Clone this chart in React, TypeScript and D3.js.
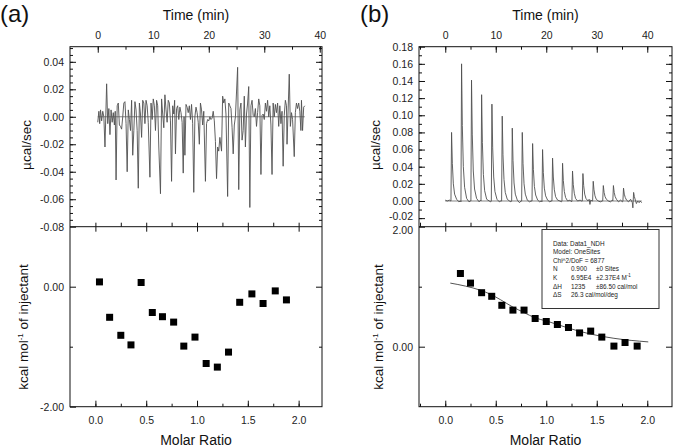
import React, { useEffect, useRef } from 'react';
import * as d3 from 'd3';

type Pt = [number, number];

// (a) raw ITC trace: [time (min), µcal/sec]
const traceA: Pt[] = [
  [0.0, -0.004], [0.2, 0.004], [0.35, -0.005], [0.5, 0.005], [0.7, -0.003], [0.9, 0.004], [1.1, 0.0],
  [1.3, -0.022], [1.6, 0.024], [1.8, -0.005], [2.0, 0.006], [2.2, -0.013], [2.4, 0.005], [2.6, -0.004],
  [2.8, 0.003], [3.0, -0.006], [3.15, 0.004], [3.3, -0.046], [3.5, 0.008], [3.7, 0.01], [3.9, -0.006],
  [4.1, -0.007], [4.3, -0.009], [4.5, 0.0], [4.7, 0.01], [4.9, 0.011], [5.1, -0.005], [5.3, -0.04],
  [5.5, 0.005], [5.7, -0.002], [5.9, -0.01], [6.1, 0.012], [6.3, -0.028], [6.5, -0.01], [6.7, 0.011],
  [6.9, 0.005], [7.1, -0.01], [7.3, -0.052], [7.5, 0.01], [7.7, 0.002], [7.9, -0.015], [8.1, 0.012],
  [8.3, 0.01], [8.5, -0.005], [8.7, 0.012], [8.9, 0.008], [9.1, -0.004], [9.4, -0.044], [9.6, 0.01],
  [9.8, -0.002], [10.0, 0.013], [10.2, 0.008], [10.4, -0.01], [10.6, 0.012], [10.8, 0.008], [11.0, -0.022],
  [11.3, -0.056], [11.5, 0.013], [11.7, 0.002], [11.9, -0.008], [12.1, 0.016], [12.3, 0.005], [12.5, -0.004],
  [12.7, 0.012], [12.9, 0.01], [13.1, -0.003], [13.3, -0.047], [13.5, 0.008], [13.7, 0.002], [13.85, 0.012],
  [14.0, -0.027], [14.2, 0.006], [14.4, 0.008], [14.6, -0.002], [14.8, 0.007], [15.0, 0.003], [15.2, -0.004],
  [15.4, -0.041], [15.55, 0.0], [15.7, -0.028], [15.9, 0.009], [16.1, 0.007], [16.3, 0.003], [16.5, 0.008],
  [16.7, -0.002], [16.9, 0.009], [17.1, -0.005], [17.3, -0.055], [17.5, 0.0], [17.7, 0.007], [17.9, 0.003],
  [18.1, -0.004], [18.3, -0.02], [18.5, 0.01], [18.7, 0.005], [18.9, -0.006], [19.1, 0.004], [19.4, -0.047],
  [19.6, -0.005], [19.8, -0.002], [20.0, -0.003], [20.2, 0.0], [20.4, -0.002], [20.6, -0.001], [20.8, 0.004],
  [21.0, -0.003], [21.2, -0.018], [21.4, -0.045], [21.6, -0.022], [21.8, -0.025], [22.0, -0.015], [22.3, -0.025],
  [22.5, 0.015], [22.7, 0.01], [22.9, 0.013], [23.1, 0.002], [23.4, -0.058], [23.6, 0.01], [23.8, 0.008],
  [24.0, 0.006], [24.2, -0.008], [24.4, -0.027], [24.6, -0.006], [24.8, 0.0], [25.2, 0.036], [25.4, -0.053],
  [25.6, 0.005], [25.8, 0.01], [26.0, -0.017], [26.2, -0.01], [26.4, 0.015], [26.6, -0.022], [26.8, 0.002],
  [27.0, 0.01], [27.2, 0.022], [27.4, -0.066], [27.6, 0.008], [27.8, 0.012], [28.0, 0.001], [28.2, 0.0],
  [28.4, 0.006], [28.6, -0.007], [28.8, 0.003], [29.0, 0.013], [29.2, 0.008], [29.4, -0.042], [29.6, 0.001],
  [29.8, 0.002], [30.0, -0.002], [30.2, 0.01], [30.4, 0.004], [30.6, 0.012], [30.8, 0.0], [31.0, 0.008],
  [31.2, -0.006], [31.4, -0.042], [31.6, 0.01], [31.8, 0.0], [32.0, 0.009], [32.2, 0.003], [32.4, 0.01],
  [32.6, -0.007], [32.8, 0.008], [33.0, -0.005], [33.2, 0.004], [33.4, -0.036], [33.6, 0.001], [33.8, 0.012],
  [34.0, 0.008], [34.1, -0.02], [34.5, 0.031], [34.7, -0.007], [34.9, 0.003], [35.1, -0.002], [35.4, -0.029],
  [35.6, 0.003], [35.8, 0.01], [36.0, 0.006], [36.2, 0.01], [36.4, 0.004], [36.6, -0.01], [36.7, 0.012],
  [36.9, -0.01], [37.1, 0.007], [37.3, 0.008],
];

// (a) integrated heats
const ratioA = [0.04, 0.14, 0.25, 0.35, 0.45, 0.56, 0.66, 0.77, 0.87, 0.98, 1.09, 1.2, 1.31, 1.42, 1.54, 1.65, 1.77, 1.88];
const heatA = [0.08, -0.51, -0.81, -0.97, 0.07, -0.43, -0.5, -0.59, -0.99, -0.84, -1.28, -1.34, -1.09, -0.26, -0.12, -0.28, -0.07, -0.22];

// (b) raw ITC trace
const traceB: Pt[] = [
  [0.0, 0.001], [0.4, 0.0], [0.8, 0.001],
  [1.13, 0.0], [1.25, 0.08], [1.4, 0.044], [1.6, 0.02], [1.85, 0.008], [2.25, 0.002], [2.7, -0.001], [3.0, 0.0],
  [3.11, -0.001], [3.23, 0.16], [3.38, 0.088], [3.58, 0.04], [3.83, 0.016], [4.23, 0.003], [4.7, -0.001], [5.0, 0.0],
  [5.08, 0.0], [5.2, 0.141], [5.35, 0.078], [5.55, 0.035], [5.8, 0.014], [6.2, 0.003], [6.7, -0.001], [7.0, 0.001],
  [7.08, 0.0], [7.2, 0.124], [7.35, 0.068], [7.55, 0.031], [7.8, 0.012], [8.2, 0.002], [8.7, 0.0], [9.0, -0.001],
  [9.12, 0.0], [9.24, 0.113], [9.39, 0.062], [9.59, 0.028], [9.84, 0.011], [10.24, 0.002], [10.7, -0.001], [11.0, 0.0],
  [11.16, 0.0], [11.28, 0.099], [11.43, 0.054], [11.63, 0.025], [11.88, 0.01], [12.28, 0.002], [12.7, 0.0], [13.0, -0.001],
  [13.15, 0.0], [13.27, 0.085], [13.42, 0.047], [13.62, 0.021], [13.87, 0.008], [14.27, 0.001], [14.7, -0.002], [15.0, 0.0],
  [15.13, 0.0], [15.25, 0.08], [15.4, 0.044], [15.6, 0.02], [15.85, 0.008], [16.25, 0.001], [16.7, -0.001], [17.0, 0.0],
  [17.18, 0.0], [17.3, 0.067], [17.45, 0.037], [17.65, 0.017], [17.9, 0.007], [18.3, 0.001], [18.7, -0.001], [19.0, 0.0],
  [19.15, -0.001], [19.27, 0.06], [19.42, 0.033], [19.62, 0.015], [19.87, 0.006], [20.27, 0.001], [20.7, -0.001], [21.0, 0.0],
  [21.13, 0.0], [21.25, 0.05], [21.4, 0.028], [21.6, 0.013], [21.85, 0.005], [22.25, 0.001], [22.7, 0.0], [23.0, -0.001],
  [23.11, 0.0], [23.23, 0.044], [23.38, 0.024], [23.58, 0.011], [23.83, 0.004], [24.23, 0.0], [24.7, 0.001], [25.0, -0.001],
  [25.08, 0.0], [25.2, 0.035], [25.35, 0.019], [25.55, 0.009], [25.8, 0.003], [26.2, 0.0], [26.7, 0.001], [27.0, 0.0],
  [27.14, 0.0], [27.26, 0.032], [27.41, 0.018], [27.61, 0.008], [27.86, 0.003], [28.26, 0.0], [28.5, 0.002], [28.65, -0.004], [28.8, 0.001], [29.1, 0.0],
  [29.18, 0.0], [29.3, 0.023], [29.45, 0.013], [29.65, 0.006], [29.9, 0.002], [30.3, 0.0], [30.7, -0.001], [31.1, 0.0],
  [31.18, 0.0], [31.3, 0.018], [31.45, 0.01], [31.65, 0.005], [31.9, 0.002], [32.3, 0.0], [32.7, -0.001], [33.1, 0.001],
  [33.18, 0.0], [33.3, 0.018], [33.45, 0.01], [33.65, 0.005], [33.9, 0.002], [34.3, -0.001], [34.7, 0.001], [35.1, -0.001],
  [35.18, 0.0], [35.3, 0.015], [35.45, 0.008], [35.65, 0.004], [35.9, 0.001], [36.3, -0.001], [36.7, 0.002], [37.05, -0.002],
  [37.15, -0.008], [37.3, 0.01], [37.45, 0.005], [37.65, 0.001], [37.85, -0.003], [38.1, 0.0], [38.4, -0.002], [38.6, 0.0], [38.9, -0.002],
];

// (b) integrated heats and fitted curve
const ratioB = [0.15, 0.25, 0.36, 0.46, 0.56, 0.67, 0.78, 0.89, 1.0, 1.11, 1.22, 1.33, 1.44, 1.55, 1.67, 1.78, 1.9];
const heatB = [1.22, 1.06, 0.9, 0.84, 0.69, 0.61, 0.61, 0.47, 0.42, 0.37, 0.32, 0.23, 0.26, 0.16, 0.01, 0.07, 0.01];
const fitRatioB = [0.05, 0.2, 0.35, 0.44, 0.55, 0.67, 0.78, 0.89, 1.0, 1.22, 1.44, 1.67, 2.01];
const fitHeatB = [1.06, 1.01, 0.94, 0.88, 0.78, 0.66, 0.57, 0.48, 0.43, 0.31, 0.21, 0.14, 0.08];

// tick labels
const timeTicks = [0, 10, 20, 30, 40];
const ratioTicks = [0, 0.5, 1, 1.5, 2];
const upperTicksA = [0.04, 0.02, 0, -0.02, -0.04, -0.06, -0.08];
const upperTicksB = [0.18, 0.16, 0.14, 0.12, 0.1, 0.08, 0.06, 0.04, 0.02, 0, -0.02];
const lowerTicksA = [0, -2];
const lowerMinorA = [1, -1];
const lowerTicksB = [2, 0];
const lowerMinorB = [1, -1];

// fit report (panel b)
const fitHeader = ['Data: Data1_NDH', 'Model: OneSites', 'Chi^2/DoF = 6877'];
const fitRows = [
  ['N', '0.900', '±0 Sites'],
  ['K', '6.95E4', '±2.37E4 M'],
  ['ΔH', '1235', '±86.50 cal/mol'],
  ['ΔS', '26.3 cal/mol/deg', ''],
];

const FONT = 'Arial, "Liberation Sans", Helvetica, sans-serif';
const TOP = 46.7;
const MID = 226.7;
const BOT = 406.7;

interface Panel {
  tag: string;
  tagX: number;
  left: number;
  right: number;
  timeDomain: [number, number];
  ratioDomain: [number, number];
  upperDomain: [number, number];
  lowerDomain: [number, number];
  upperTicks: number[];
  lowerTicks: number[];
  lowerMinor: number[];
  trace: Pt[];
  ratio: number[];
  heat: number[];
  kcalX: number;
  fit?: boolean;
}

function styleAxis(a: d3.Selection<SVGGElement, unknown, null, undefined>) {
  a.select('.domain').remove();
  a.selectAll('line').attr('stroke', '#111').attr('stroke-width', 1);
  a.selectAll('text')
    .attr('fill', '#222')
    .style('font-family', FONT)
    .style('font-size', '10.5px');
  return a;
}

function drawPanel(svg: d3.Selection<SVGSVGElement, unknown, null, undefined>, p: Panel) {
  const g = svg.append('g');

  const t = d3.scaleLinear().domain(p.timeDomain).range([p.left, p.right]);
  const r = d3.scaleLinear().domain(p.ratioDomain).range([p.left, p.right]);
  const yu = d3.scaleLinear().domain(p.upperDomain).range([MID, TOP]);
  const yl = d3.scaleLinear().domain(p.lowerDomain).range([BOT, MID]);

  const inside = (s: d3.ScaleLinear<number, number>) => (v: number) => {
    const [a, b] = s.domain();
    return v > Math.min(a, b) + 1e-6 && v < Math.max(a, b) - 1e-6;
  };

  const minorTime = t.ticks(9).filter(inside(t));
  const minorRatio = d3.range(-0.25, 2.3, 0.25).filter(inside(r));
  const minorUpper = yu.ticks(22).filter(inside(yu));

  // --- top time axis
  styleAxis(g.append('g').attr('transform', `translate(0,${TOP})`)
    .call(d3.axisTop(t).tickValues(minorTime).tickSize(-3).tickFormat(() => '')));
  styleAxis(g.append('g').attr('transform', `translate(0,${TOP})`)
    .call(d3.axisTop(t).tickValues(timeTicks).tickSize(-6).tickPadding(8).tickFormat(d => String(d))));

  // --- upper y axes
  styleAxis(g.append('g').attr('transform', `translate(${p.left},0)`)
    .call(d3.axisLeft(yu).tickValues(minorUpper).tickSize(-3).tickFormat(() => '')));
  const upLeft = styleAxis(g.append('g').attr('transform', `translate(${p.left},0)`)
    .call(d3.axisLeft(yu).tickValues(p.upperTicks).tickSize(-6).tickPadding(6).tickFormat(d => (+d).toFixed(2))));
  // lift a label sitting just above the divider so it clears the lower panel's top label
  upLeft.selectAll<SVGTextElement, number>('text')
    .filter(d => yu(d) > MID - 10 && yu(d) < MID - 1)
    .attr('transform', 'translate(0,-2.5)');
  styleAxis(g.append('g').attr('transform', `translate(${p.right},0)`)
    .call(d3.axisRight(yu).tickValues(minorUpper).tickSize(-3).tickFormat(() => '')));
  styleAxis(g.append('g').attr('transform', `translate(${p.right},0)`)
    .call(d3.axisRight(yu).tickValues(p.upperTicks.filter(inside(yu))).tickSize(-6).tickFormat(() => '')));

  // --- divider ticks (molar ratio)
  styleAxis(g.append('g').attr('transform', `translate(0,${MID})`)
    .call(d3.axisBottom(r).tickValues(minorRatio).tickSize(-4).tickFormat(() => '')));
  styleAxis(g.append('g').attr('transform', `translate(0,${MID})`)
    .call(d3.axisTop(r).tickValues(ratioTicks).tickSize(-5).tickFormat(() => '')));

  // --- lower y axes
  styleAxis(g.append('g').attr('transform', `translate(${p.left},0)`)
    .call(d3.axisLeft(yl).tickValues(p.lowerMinor.filter(inside(yl))).tickSize(-3).tickFormat(() => '')));
  const lowLeft = styleAxis(g.append('g').attr('transform', `translate(${p.left},0)`)
    .call(d3.axisLeft(yl).tickValues(p.lowerTicks).tickSize(-6).tickPadding(6).tickFormat(d => (+d).toFixed(2))));
  lowLeft.selectAll<SVGTextElement, number>('text')
    .filter(d => Math.abs(yl(d) - MID) < 1)
    .attr('transform', 'translate(0,3)');
  styleAxis(g.append('g').attr('transform', `translate(${p.right},0)`)
    .call(d3.axisRight(yl).tickValues(p.lowerMinor.filter(inside(yl))).tickSize(-3).tickFormat(() => '')));
  styleAxis(g.append('g').attr('transform', `translate(${p.right},0)`)
    .call(d3.axisRight(yl).tickValues(p.lowerTicks.filter(inside(yl))).tickSize(-6).tickFormat(() => '')));

  // --- bottom ratio axis
  styleAxis(g.append('g').attr('transform', `translate(0,${BOT})`)
    .call(d3.axisBottom(r).tickValues(minorRatio).tickSize(-3).tickFormat(() => '')));
  styleAxis(g.append('g').attr('transform', `translate(0,${BOT})`)
    .call(d3.axisBottom(r).tickValues(ratioTicks).tickSize(-6).tickPadding(9.5).tickFormat(d3.format('.1f'))));

  // frame
  g.append('rect')
    .attr('x', p.left).attr('y', TOP)
    .attr('width', p.right - p.left).attr('height', BOT - TOP)
    .attr('fill', 'none').attr('stroke', '#111').attr('stroke-width', 1);
  g.append('line')
    .attr('x1', p.left).attr('x2', p.right).attr('y1', MID).attr('y2', MID)
    .attr('stroke', '#111').attr('stroke-width', 1);

  // raw trace + baseline
  const tEnd = p.trace[p.trace.length - 1][0];
  g.append('line')
    .attr('x1', t(p.trace[0][0])).attr('x2', t(tEnd))
    .attr('y1', yu(0)).attr('y2', yu(0))
    .attr('stroke', '#666').attr('stroke-width', 0.8);
  const line = d3.line<Pt>().x(d => t(d[0])).y(d => yu(d[1]));
  g.append('path').datum(p.trace)
    .attr('d', line)
    .attr('fill', 'none').attr('stroke', '#505050').attr('stroke-width', 0.9)
    .attr('stroke-linejoin', 'round');

  // fitted curve
  if (p.fit) {
    const fitPts = d3.zip(fitRatioB, fitHeatB) as Pt[];
    const fitLine = d3.line<Pt>().x(d => r(d[0])).y(d => yl(d[1])).curve(d3.curveMonotoneX);
    g.append('path').datum(fitPts)
      .attr('d', fitLine)
      .attr('fill', 'none').attr('stroke', '#555').attr('stroke-width', 1);
  }

  // integrated heats
  const pts = d3.zip(p.ratio, p.heat) as Pt[];
  g.selectAll('rect.pt').data(pts).enter().append('rect')
    .attr('class', 'pt')
    .attr('x', d => r(d[0]) - 3.5).attr('y', d => yl(d[1]) - 3.5)
    .attr('width', 7).attr('height', 7)
    .attr('fill', '#000');

  // titles
  const cx = (p.left + p.right) / 2;
  g.append('text').attr('x', p.tagX).attr('y', 22)
    .style('font-family', FONT).style('font-size', '24px').attr('fill', '#111')
    .text(p.tag);
  g.append('text').attr('x', cx).attr('y', 19.5).attr('text-anchor', 'middle')
    .style('font-family', FONT).style('font-size', '14px').attr('fill', '#111')
    .text('Time (min)');
  g.append('text').attr('x', cx).attr('y', 445).attr('text-anchor', 'middle')
    .style('font-family', FONT).style('font-size', '14px').attr('fill', '#111')
    .text('Molar Ratio');
  g.append('text')
    .attr('transform', `translate(${p.left - 39},145) rotate(-90)`)
    .attr('text-anchor', 'middle')
    .style('font-family', FONT).style('font-size', '13.5px').attr('fill', '#111')
    .text('µcal/sec');
  const k = g.append('text')
    .attr('transform', `translate(${p.kcalX},327) rotate(-90)`)
    .attr('text-anchor', 'middle')
    .style('font-family', FONT).style('font-size', '13.5px').attr('fill', '#111');
  k.append('tspan').text('kcal mol');
  k.append('tspan').attr('dy', -5).style('font-size', '8px').text('-1');
  k.append('tspan').attr('dy', 5).text(' of injectant');

  return g;
}

function drawFitBox(svg: d3.Selection<SVGSVGElement, unknown, null, undefined>) {
  const bx = 542;
  const by = 229.5;
  const g = svg.append('g').style('font-family', FONT).style('font-size', '6.4px').attr('fill', '#222');
  g.append('rect').attr('x', bx).attr('y', by).attr('width', 117).attr('height', 79)
    .attr('fill', '#fff').attr('stroke', '#333').attr('stroke-width', 1);
  const row = (i: number) => by + 16 + i * 8.6;
  fitHeader.forEach((s, i) => {
    g.append('text').attr('x', bx + 11).attr('y', row(i)).text(s);
  });
  fitRows.forEach((cols, j) => {
    const y = row(j + fitHeader.length);
    g.append('text').attr('x', bx + 11).attr('y', y).text(cols[0]);
    g.append('text').attr('x', bx + 29).attr('y', y).text(cols[1]);
    if (cols[2]) {
      const tx = g.append('text').attr('x', bx + 54).attr('y', y).text(cols[2]);
      if (cols[0] === 'K') {
        tx.append('tspan').attr('dy', -2.5).style('font-size', '4.5px').text('-1');
      }
    }
  });
}

const App: React.FC = () => {
  const svgRef = useRef<SVGSVGElement>(null);

  useEffect(() => {
    if (!svgRef.current) return;
    const svg = d3.select(svgRef.current);
    svg.selectAll('*').remove();

    drawPanel(svg, {
      tag: '(a)', tagX: 0, left: 70, right: 322,
      timeDomain: [-5, 40.4], ratioDomain: [-0.25, 2.23],
      upperDomain: [-0.08, 0.051], lowerDomain: [-2, 1],
      upperTicks: upperTicksA, lowerTicks: lowerTicksA, lowerMinor: lowerMinorA,
      trace: traceA, ratio: ratioA, heat: heatA, kcalX: 28,
    });
    drawPanel(svg, {
      tag: '(b)', tagX: 360, left: 419, right: 672,
      timeDomain: [-5.2, 44.9], ratioDomain: [-0.26, 2.245],
      upperDomain: [-0.03, 0.18], lowerDomain: [-1, 2],
      upperTicks: upperTicksB, lowerTicks: lowerTicksB, lowerMinor: lowerMinorB,
      trace: traceB, ratio: ratioB, heat: heatB, kcalX: 383, fit: true,
    });
    drawFitBox(svg);
  }, []);

  return (
    <svg
      ref={svgRef}
      width={675}
      height={447}
      style={{ position: 'absolute', left: 0, top: 0, background: '#fff' }}
    />
  );
};

export default App;
